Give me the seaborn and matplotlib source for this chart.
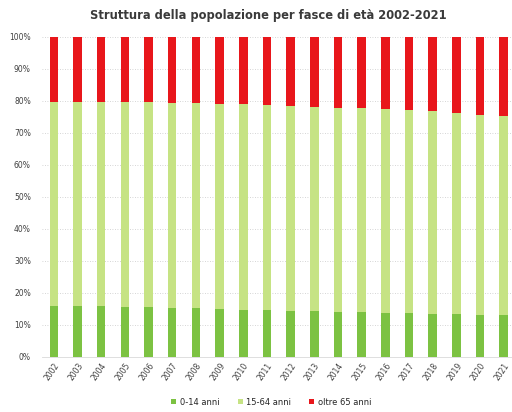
import matplotlib
matplotlib.use("Agg")
import matplotlib.pyplot as plt
from matplotlib.patches import Patch
import seaborn as sns
import pandas as pd

years = [str(y) for y in range(2002, 2022)]
# share of population by age band (%)
age_0_14 = [15.9, 15.8, 15.8, 15.6, 15.5, 15.3, 15.2, 15.0, 14.8, 14.6,
            14.5, 14.3, 14.1, 14.0, 13.8, 13.6, 13.5, 13.3, 13.2, 13.0]
age_65_plus = [20.2, 20.3, 20.2, 20.4, 20.5, 20.6, 20.8, 20.9, 21.1, 21.3,
               21.6, 21.8, 22.1, 22.3, 22.5, 22.8, 23.1, 23.8, 24.4, 24.6]
age_15_64 = [100 - a - b for a, b in zip(age_0_14, age_65_plus)]
series_labels = ["0-14 anni", "15-64 anni", "oltre 65 anni"]
colors = ["#7cc242", "#c6e384", "#e8161b"]

df = pd.DataFrame({
    "anno": years,
    "giovani": [v / 100 for v in age_0_14],
    "fino_64": [(a + b) / 100 for a, b in zip(age_0_14, age_15_64)],
    "totale": [(a + b + c) / 100 for a, b, c in zip(age_0_14, age_15_64, age_65_plus)],
})

sns.set_style("white")
plt.rcParams["font.family"] = ["DejaVu Sans"]

fig = plt.figure(figsize=(5.12, 4.12), dpi=100)
ax = fig.add_axes([0.082, 0.1335, 0.925, 0.777])

for col, c in [("totale", colors[2]), ("fino_64", colors[1]), ("giovani", colors[0])]:
    sns.barplot(data=df, x="anno", y=col, color=c, saturation=1, width=0.36,
                ax=ax, linewidth=0, zorder=3)

ax.set_ylim(0, 1.0)
ax.set_xlim(-0.5, 19.5)
ax.set_yticks([i / 10 for i in range(11)])
ax.set_yticklabels([f"{i * 10}%" for i in range(11)], fontsize=5.5, color="#404040")
ax.tick_params(axis="y", length=0, pad=8)
ax.tick_params(axis="x", length=0, pad=3)
ax.set_xticks(range(len(years)))
ax.set_xticklabels(years, rotation=55, fontsize=5.5, color="#404040",
                   ha="right", rotation_mode="anchor")
ax.yaxis.grid(True, linestyle=(0, (1, 2)), color="#c8c8c8", linewidth=0.6, zorder=0)
ax.set_axisbelow(True)
for s in ["top", "right", "left"]:
    ax.spines[s].set_visible(False)
ax.spines["bottom"].set_color("#d9d9d9")
ax.spines["bottom"].set_linewidth(0.6)
ax.set_xlabel("")
ax.set_ylabel("")

fig.suptitle("Struttura della popolazione per fasce di età 2002-2021",
             x=0.525, y=0.977, fontsize=8.3, color="#3a3a3a", fontweight="bold")

handles = [Patch(facecolor=c, edgecolor="none") for c in colors]
fig.legend(handles, series_labels, loc="lower center", bbox_to_anchor=(0.53, -0.005),
           ncol=3, frameon=False, fontsize=6, handlelength=0.6, handleheight=0.6,
           handletextpad=0.4, columnspacing=2.2)

fig.savefig("out.png", dpi=100)
